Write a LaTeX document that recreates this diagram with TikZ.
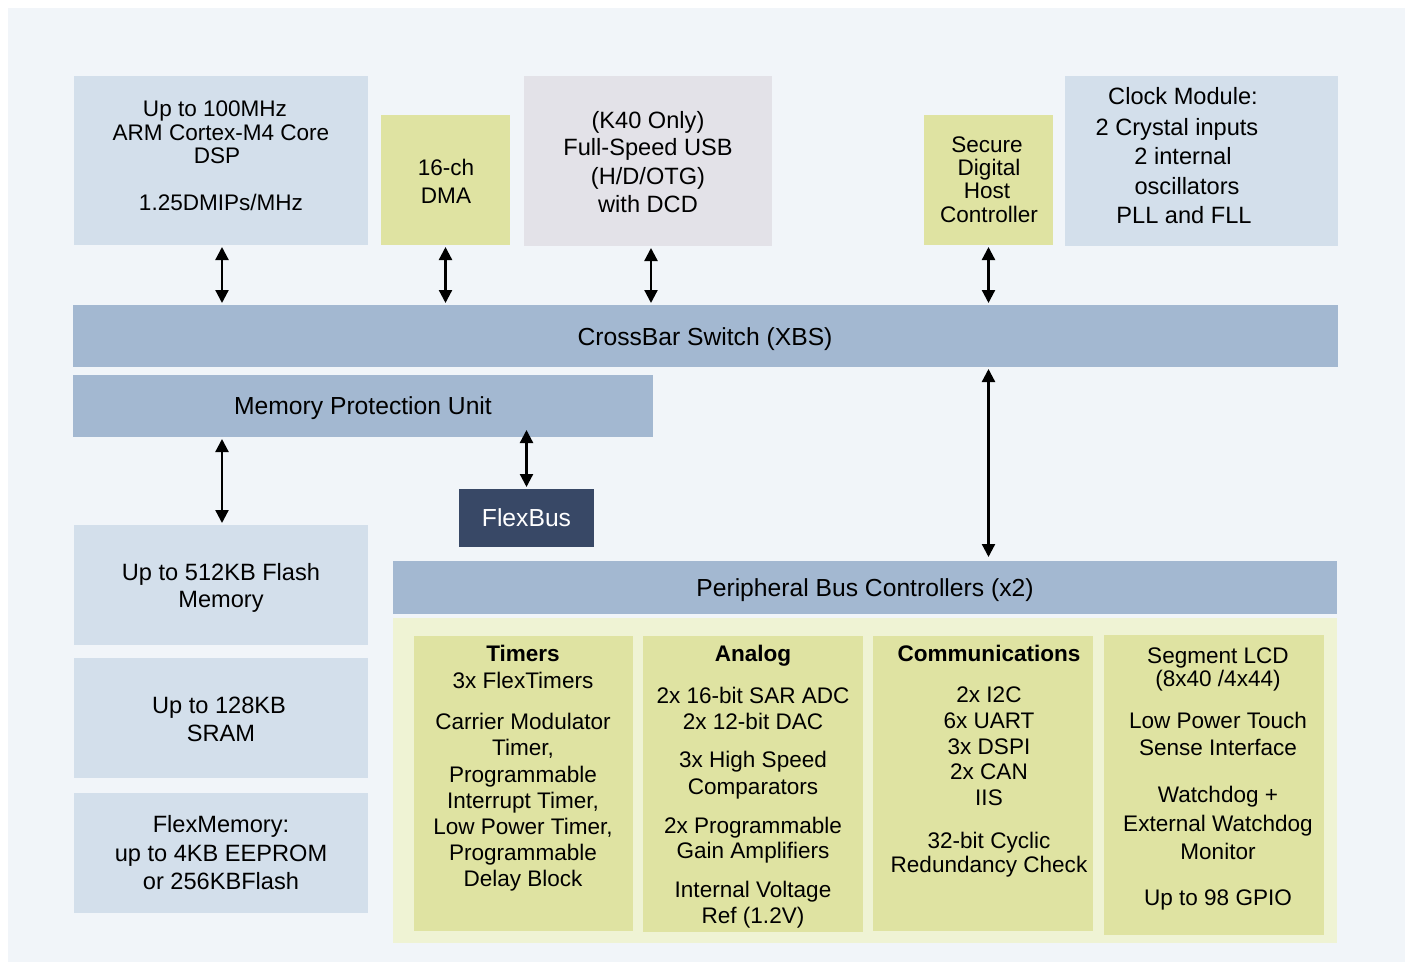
\documentclass[tikz,border=0pt]{standalone}
\usepackage{fontspec}
\setmainfont{Liberation Sans}
\usetikzlibrary{arrows.meta,fit}
\definecolor{bgc}{HTML}{F1F5F9}
\definecolor{lblue}{HTML}{D3DFEB}
\definecolor{barc}{HTML}{A3B8D1}
\definecolor{yel}{HTML}{DFE3A2}
\definecolor{contc}{HTML}{EFF3D4}
\definecolor{usbg}{HTML}{E3E2E8}
\definecolor{fbus}{HTML}{384866}
\tikzset{
  box/.style={rectangle, draw=none, inner sep=0pt, outer sep=0pt},
  ts/.style={inner sep=0pt, outer sep=0pt, text height=12.1pt, text depth=0pt, font=\fontsize{16.9pt}{18pt}\selectfont},
  tb/.style={ts, font=\bfseries\fontsize{16.9pt}{18pt}\selectfont},
  tm/.style={inner sep=0pt, outer sep=0pt, text height=12.7pt, text depth=0pt, font=\fontsize{17.7pt}{19pt}\selectfont},
  tl/.style={inner sep=0pt, outer sep=0pt, text height=13.25pt, text depth=0pt, font=\fontsize{18.5pt}{20pt}\selectfont},
  conn/.style={line width=1.7pt, {Triangle[width=9.75pt,length=9.75pt]}-{Triangle[width=9.75pt,length=9.75pt]}, shorten <=1.5pt, shorten >=1.5pt}
}
\newcommand\bx[3]{\node[box,fill=#3,fit={#2}] (#1) {};}
\begin{document}
\begin{tikzpicture}[x=0.75pt,y=-0.75pt]
\useasboundingbox (0,0) rectangle (1411,964);
\fill[white] (0,0) rectangle (1411,964);
\fill[bgc] (8,8) rectangle (1405,962);
% boxes
\bx{cpu}{(74,76)(368,245)}{lblue}
\bx{dma}{(381,115)(510,245)}{yel}
\bx{usb}{(524,76)(772,246)}{usbg}
\bx{sdhc}{(924,115)(1053,245)}{yel}
\bx{clk}{(1065,76)(1338,246)}{lblue}
\bx{xbs}{(73,305)(1338,367)}{barc}
\bx{mpu}{(73,375)(653,437)}{barc}
\bx{fb}{(459,489)(594,547)}{fbus}
\bx{flash}{(74,525)(368,645)}{lblue}
\bx{sram}{(74,658)(368,778)}{lblue}
\bx{fmem}{(74,793)(368,913)}{lblue}
\bx{pbc}{(393,561)(1337,614)}{barc}
\bx{cont}{(393,618)(1337,943)}{contc}
\bx{tim}{(414,636)(633,931)}{yel}
\bx{ana}{(643,636)(863,932)}{yel}
\bx{com}{(873,636)(1093,931)}{yel}
\bx{seg}{(1104,635)(1324,935)}{yel}
% texts
\node[ts] (cpu1) at (215,108) {Up to 100MHz};
\node[ts] (cpu2) at (221,132) {ARM Cortex-M4 Core};
\node[ts] (cpu3) at (217,155) {DSP};
\node[ts] (cpu4) at (221,202) {1.25DMIPs/MHz};
\node[ts] (dma1) at (446,167.5) {16-ch};
\node[ts] (dma2) at (446,195) {DMA};
\node[tm] (usb1) at (648,120) {(K40 Only)};
\node[tm] (usb2) at (648,147.5) {Full-Speed USB};
\node[tm] (usb3) at (648,176) {(H/D/OTG)};
\node[tm] (usb4) at (648,204) {with DCD};
\node[ts] (sd1) at (987,144) {Secure};
\node[ts] (sd2) at (989,167) {Digital};
\node[ts] (sd3) at (987,190.5) {Host};
\node[ts] (sd4) at (989,214) {Controller};
\node[tm] (clk1) at (1183,96) {Clock Module:};
\node[tm] (clk2) at (1177,127) {2 Crystal inputs};
\node[tm] (clk3) at (1183,156) {2 internal};
\node[tm] (clk4) at (1187,186) {oscillators};
\node[tm] (clk5) at (1184,215) {PLL and FLL};
\node[tl] (xbs1) at (705,337) {CrossBar Switch (XBS)};
\node[tl] (mpu1) at (363,406) {Memory Protection Unit};
\node[tl,text=white] (fb1) at (526.5,518) {FlexBus};
\node[tl] (pbc1) at (865,588) {Peripheral Bus Controllers (x2)};
\node[tm] (fl1) at (221,571.7) {Up to 512KB Flash};
\node[tm] (fl2) at (221,599.5) {Memory};
\node[tm] (sr1) at (219,704.7) {Up to 128KB};
\node[tm] (sr2) at (221,733.3) {SRAM};
\node[tm] (fm1) at (221,824.3) {FlexMemory:};
\node[tm] (fm2) at (221,853) {up to 4KB EEPROM};
\node[tm] (fm3) at (221,881.3) {or 256KBFlash};
% timers
\node[tb] (ti0) at (523,653) {Timers};
\node[ts] (ti1) at (523,680.5) {3x FlexTimers};
\node[ts] (ti2) at (523,721) {Carrier Modulator};
\node[ts] (ti3) at (523,747) {Timer,};
\node[ts] (ti4) at (523,774) {Programmable};
\node[ts] (ti5) at (523,800.5) {Interrupt Timer,};
\node[ts] (ti6) at (523,826) {Low Power Timer,};
\node[ts] (ti7) at (523,852) {Programmable};
\node[ts] (ti8) at (523,878) {Delay Block};
% analog
\node[tb] (an0) at (753,653) {Analog};
\node[ts] (an1) at (753,695) {2x 16-bit SAR ADC};
\node[ts] (an2) at (753,721) {2x 12-bit DAC};
\node[ts] (an3) at (753,759.7) {3x High Speed};
\node[ts] (an4) at (753,786) {Comparators};
\node[ts] (an5) at (753,825) {2x Programmable};
\node[ts] (an6) at (753,850.7) {Gain Amplifiers};
\node[ts] (an7) at (753,889.7) {Internal Voltage};
\node[ts] (an8) at (753,915.7) {Ref (1.2V)};
% communications
\node[tb] (co0) at (989,653.3) {Communications};
\node[ts] (co1) at (989,694) {2x I2C};
\node[ts] (co2) at (989,720) {6x UART};
\node[ts] (co3) at (989,746) {3x DSPI};
\node[ts] (co4) at (989,771.7) {2x CAN};
\node[ts] (co5) at (989,797.5) {IIS};
\node[ts] (co6) at (989,840) {32-bit Cyclic};
\node[ts] (co7) at (989,864.7) {Redundancy Check};
% segment
\node[ts] (sg1) at (1218,655) {Segment LCD};
\node[ts] (sg2) at (1218,678.3) {(8x40 /4x44)};
\node[ts] (sg3) at (1218,720) {Low Power Touch};
\node[ts] (sg4) at (1218,747.7) {Sense Interface};
\node[ts] (sg5) at (1218,794) {Watchdog +};
\node[ts] (sg6) at (1218,823.3) {External Watchdog};
\node[ts] (sg7) at (1218,851.7) {Monitor};
\node[ts] (sg8) at (1218,897.7) {Up to 98 GPIO};
% connectors
\draw[conn] ([xshift=0.75pt]cpu.south) -- ([xshift=0.75pt]cpu.south |- xbs.north);
\draw[conn] (dma.south) -- (dma.south |- xbs.north);
\draw[conn] ([xshift=2.25pt]usb.south) -- ([xshift=2.25pt]usb.south |- xbs.north);
\draw[conn] (sdhc.south) -- (sdhc.south |- xbs.north);
\draw[conn] (sdhc.south |- xbs.south) -- ([yshift=1.5pt]sdhc.south |- pbc.north);
\draw[conn] ([xshift=0.75pt]cpu.south |- mpu.south) -- ([xshift=0.75pt]cpu.south |- flash.north);
\draw[conn] ([yshift=6.75pt]fb.north |- mpu.south) -- (fb.north);
\end{tikzpicture}
\end{document}
